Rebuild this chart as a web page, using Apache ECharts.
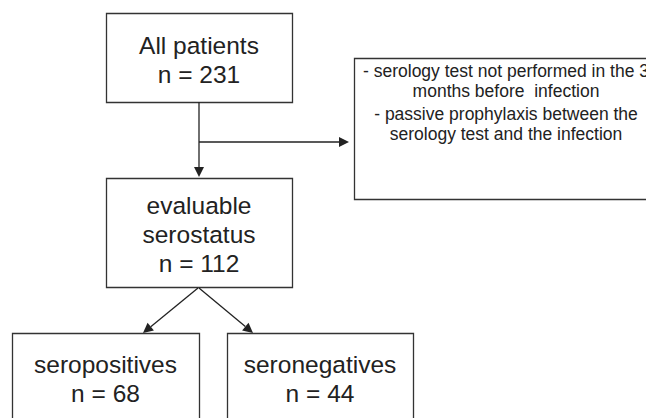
<!DOCTYPE html>
<html>
<head>
<meta charset="utf-8">
<script src="https://cdn.jsdelivr.net/npm/echarts@6/dist/echarts.min.js"></script>
<style>
  html, body { margin: 0; padding: 0; background: #fff; }
  #flow { width: 646px; height: 418px; }
</style>
</head>
<body>
<div id="flow"></div>
<script>
"use strict";

/* flow data */
var stages = ['All patients', 'evaluable\nserostatus', 'seropositives', 'seronegatives'];
var counts = [231, 112, 68, 44];
var exclusionNotes = [
	'- serology test not performed in the 3\nmonths before  infection',
	'- passive prophylaxis between the\nserology test and the infection'
];
var flows = [[0, 1], [1, 2], [1, 3]];

/* layout (pixels) */
var boxes = [
	{ x: 106, y: 13, w: 186, h: 89, ty: 59.5 },
	{ x: 106, y: 178, w: 186, h: 109, ty: 234 },
	{ x: 12, y: 333, w: 187, h: 90, ty: 378.5 },
	{ x: 227, y: 333, w: 186, h: 90, ty: 378.5 }
];
var exclBox = { x: 354, y: 58, w: 306, h: 141, cx: 506, ty: [81, 124] };
var flowEnds = [
	[199, 102, 199, 177],
	[198, 288, 143, 333],
	[199, 288, 253, 333]
];
var branch = [199, 142, 349, 142];

var ink = '#222';
var font = "'Liberation Sans', Arial, Helvetica, sans-serif";

function arrow(x1, y1, x2, y2) {
	var dx = x2 - x1, dy = y2 - y1;
	var len = Math.sqrt(dx * dx + dy * dy);
	var ux = dx / len, uy = dy / len;
	var hl = 10, hw = 5;
	var bx = x2 - ux * hl, by = y2 - uy * hl;
	return [
		{
			type: 'line',
			shape: { x1: x1, y1: y1, x2: bx, y2: by },
			style: { stroke: ink, lineWidth: 1.3 }
		},
		{
			type: 'polygon',
			shape: { points: [[x2, y2], [bx - uy * hw, by + ux * hw], [bx + uy * hw, by - ux * hw]] },
			style: { fill: ink }
		}
	];
}

var elements = [];

stages.forEach(function (name, i) {
	var b = boxes[i];
	elements.push({
		type: 'rect',
		shape: { x: b.x + 0.5, y: b.y + 0.5, width: b.w, height: b.h },
		style: { fill: '#fff', stroke: '#333', lineWidth: 1.3 }
	});
	elements.push({
		type: 'text',
		x: b.x + b.w / 2,
		y: b.ty,
		style: {
			text: name + '\nn = ' + counts[i],
			fontFamily: font,
			fontSize: 24.5,
			lineHeight: 29,
			fill: ink,
			align: 'center',
			verticalAlign: 'middle'
		}
	});
});

elements.push({
	type: 'rect',
	shape: { x: exclBox.x + 0.5, y: exclBox.y + 0.5, width: exclBox.w, height: exclBox.h },
	style: { fill: '#fff', stroke: '#333', lineWidth: 1.3 }
});
exclusionNotes.forEach(function (note, i) {
	elements.push({
		type: 'text',
		x: exclBox.cx,
		y: exclBox.ty[i],
		style: {
			text: note,
			fontFamily: font,
			fontSize: 17.5,
			lineHeight: 20,
			fill: ink,
			align: 'center',
			verticalAlign: 'middle'
		}
	});
});

flows.forEach(function (f, i) {
	var e = flowEnds[i];
	elements = elements.concat(arrow(e[0], e[1], e[2], e[3]));
});
elements = elements.concat(arrow(branch[0], branch[1], branch[2], branch[3]));

var flowChart = echarts.init(document.getElementById('flow'), null, { renderer: 'svg' });
flowChart.setOption({
	backgroundColor: '#fff',
	animation: false,
	graphic: { elements: elements }
});
</script>
</body>
</html>
